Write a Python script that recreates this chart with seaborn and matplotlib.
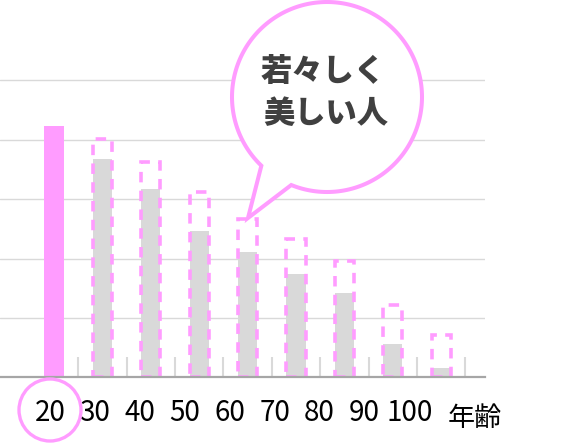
import numpy as np
import pandas as pd
import seaborn as sns
import matplotlib.pyplot as plt
from matplotlib.patches import Circle, Polygon

ages = ["20", "30", "40", "50", "60", "70", "80", "90", "100"]
actual = [84.5, 73.6, 63.4, 49.2, 42.2, 34.8, 28.4, 11.3, 3.2]
expected_ages = ["30", "40", "50", "60", "70", "80", "90", "100"]
expected = [80.3, 72.6, 62.4, 53.4, 46.7, 39.3, 24.4, 14.3]
callout_lines = ["若々しく", "美しい人"]
axis_title = "年齢"

PINK = "#ff9cff"
GRAY = "#d9d9d9"

sns.set_style("white")
plt.rcParams["font.family"] = ["Noto Sans CJK JP", "DejaVu Sans"]

fig = plt.figure(figsize=(5.66, 4.47), dpi=100)
ax = fig.add_axes([0, 0.1555, 485 / 566, 0.8445])

df = pd.DataFrame({"age": ages, "value": actual,
                   "kind": ["young"] + ["old"] * (len(ages) - 1)})
sns.barplot(data=df, x="age", y="value", hue="kind", order=ages,
            palette={"young": PINK, "old": GRAY}, saturation=1,
            width=0.4, dodge=False, legend=False, ax=ax, linewidth=0)

exp_df = pd.DataFrame({"age": expected_ages, "value": expected})
sns.barplot(data=exp_df, x="age", y="value", order=ages, color=PINK,
            saturation=1, fill=False, width=0.4, linewidth=2.6,
            linestyle=(0, (2.9, 2.3)), ax=ax)

ax.set_xlim(-1.116, 8.905)
ax.set_ylim(0, 126.9)
ax.set_yticks([20, 40, 60, 80, 100])
ax.yaxis.grid(True, color=GRAY, linewidth=1)
ax.set_axisbelow(True)
ax.tick_params(axis="y", left=False, labelleft=False)
for s in ["top", "right", "left"]:
    ax.spines[s].set_visible(False)
ax.spines["bottom"].set_color("#a6a6a6")
ax.spines["bottom"].set_linewidth(1.6)
ax.set_xlabel("")
ax.set_ylabel("")

# category separators
ax.set_xticks(np.arange(len(ages)) + 0.5, minor=True)
ax.tick_params(axis="x", which="minor", direction="in", length=14.4,
               width=1.5, color=GRAY, bottom=True)
label_pos = np.arange(len(ages)) * 0.928 - 0.083
ax.set_xticks(label_pos)
ax.set_xticklabels(ages, fontsize=20, color="black")
ax.tick_params(axis="x", which="major", length=0, pad=14.5)
ax.text(8.69, -9.4, axis_title, fontsize=19.5, ha="center", va="top",
        color="black", transform=ax.transData, clip_on=False)

# overlay for callout decorations
ov = fig.add_axes([0, 0, 1, 1], zorder=5)
ov.set_xlim(0, 566)
ov.set_ylim(447, 0)
ov.axis("off")
ov.patch.set_visible(False)

ov.add_patch(Circle((50, 410), 31, fill=False, edgecolor=PINK, linewidth=2.4))

cx, cy, r = 327, 97, 95
th = np.radians(np.linspace(133.7, 472.1, 200))
pts = np.column_stack([cx + r * np.cos(th), cy + r * np.sin(th)])
pts = np.vstack([pts, [[248, 218]]])
ov.add_patch(Polygon(pts, closed=True, facecolor="white", edgecolor=PINK,
                     linewidth=2.9, joinstyle="miter"))
ov.text(323, 71, callout_lines[0], fontsize=22.5, fontweight="heavy",
        color="#404040", ha="center", va="center")
ov.text(326, 113, callout_lines[1], fontsize=22.5, fontweight="heavy",
        color="#404040", ha="center", va="center")

fig.savefig("out.png", dpi=100)
